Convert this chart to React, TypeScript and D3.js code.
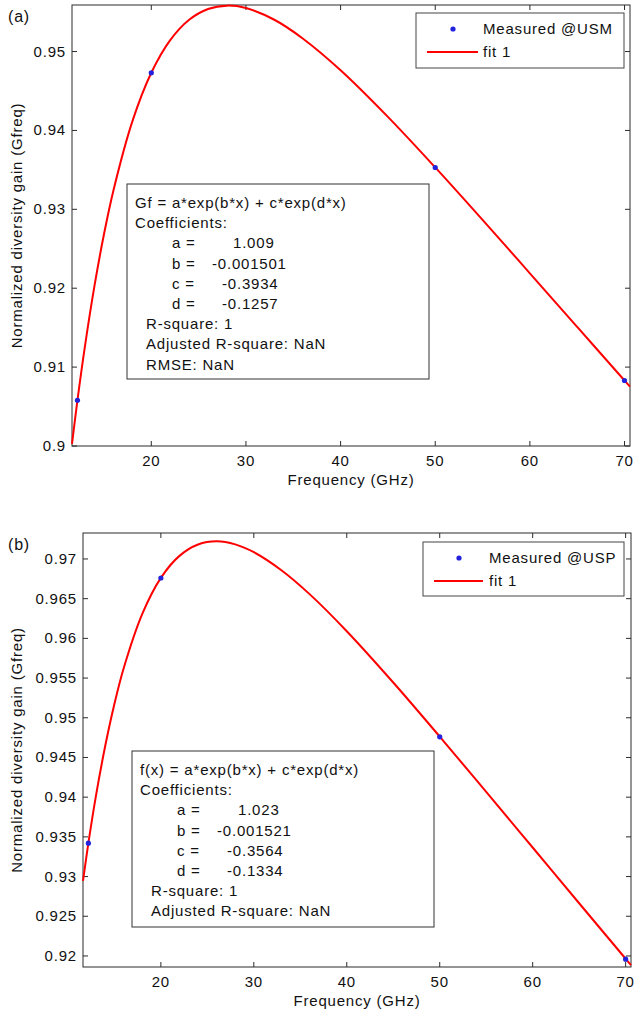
import React from "react";
import * as d3 from "d3";

// ---- data ----
const measuredFreq = [12.2, 20, 50, 70];
const measuredUSM = [0.9058, 0.9473, 0.9353, 0.9083];
const measuredUSP = [0.9342, 0.9676, 0.9476, 0.9196];

const fitFreq = [11.622, 12.2, 13, 14, 15, 16, 18, 20, 22, 24, 26, 28, 30, 33, 36, 40, 45, 50, 55, 60, 65, 70, 70.578];
const fitUSM = [0.90027, 0.90582, 0.91273, 0.92032, 0.92684, 0.9324, 0.94115, 0.94731, 0.95145, 0.95403, 0.9554, 0.95582, 0.95551, 0.95403, 0.95166, 0.94763, 0.94172, 0.93531, 0.92866, 0.92189, 0.9151, 0.9083, 0.90752];
const fitUSP = [0.92947, 0.9342, 0.94006, 0.94638, 0.95174, 0.95624, 0.96308, 0.96762, 0.97039, 0.97182, 0.97222, 0.97184, 0.97085, 0.96855, 0.96557, 0.9609, 0.95444, 0.94763, 0.94067, 0.93366, 0.92664, 0.91965, 0.91884];

const xTicks = [20, 30, 40, 50, 60, 70];
const yTicksA = [0.9, 0.91, 0.92, 0.93, 0.94, 0.95];
const yTickLabelsA = ["0.9", "0.91", "0.92", "0.93", "0.94", "0.95"];
const yTicksB = [0.92, 0.925, 0.93, 0.935, 0.94, 0.945, 0.95, 0.955, 0.96, 0.965, 0.97];
const yTickLabelsB = ["0.92", "0.925", "0.93", "0.935", "0.94", "0.945", "0.95", "0.955", "0.96", "0.965", "0.97"];

const coefNames = ["a", "b", "c", "d"];
const coefUSM = ["1.009", "-0.001501", "-0.3934", "-0.1257"];
const coefUSP = ["1.023", "-0.001521", "-0.3564", "-0.1334"];
const statsUSM = ["R-square: 1", "Adjusted R-square: NaN", "RMSE: NaN"];
const statsUSP = ["R-square: 1", "Adjusted R-square: NaN"];

const FONT = "'Liberation Sans', Arial, Helvetica, sans-serif";
const LS = 0.8;

type PanelProps = {
  label: string;
  box: { l: number; r: number; t: number; b: number };
  yDomain: [number, number];
  yTicks: number[];
  yTickLabels: string[];
  measured: number[];
  fit: number[];
  legendText: string;
  legendBox: { l: number; t: number; r: number; b: number; dotX: number; textX: number; lineX0: number; lineX1: number };
  annBox: { l: number; t: number; w: number; h: number };
  formula: string;
  coefs: string[];
  stats: string[];
};

function Panel(p: PanelProps) {
  const { box } = p;
  const x = d3.scaleLinear().domain([11.622, 70.578]).range([box.l, box.r]);
  const y = d3.scaleLinear().domain(p.yDomain).range([box.b, box.t]);
  const line = d3
    .line<number>()
    .x((_, i) => x(fitFreq[i]))
    .y((d) => y(d))
    .curve(d3.curveCatmullRom.alpha(0.5));
  const tl = 5;
  const axisColor = "#2b2b2b";
  const lg = p.legendBox;
  const a = p.annBox;
  const rowH = 20.2;
  const rowY = (i: number) => a.t + 19 + i * rowH + 5;
  const valIndent = (s: string) => (s.startsWith("-0.00") ? 85 : s.startsWith("-") ? 95 : 106);
  return (
    <g fontFamily={FONT} fontSize={15} letterSpacing={LS}>
      <text x={8} y={box.t + 17} fontSize={16} fill="#111">{p.label}</text>
      <rect x={box.l} y={box.t} width={box.r - box.l} height={box.b - box.t} fill="#fff" stroke={axisColor} strokeWidth={1} />
      {xTicks.map((t) => (
        <g key={"x" + t}>
          <line x1={x(t)} x2={x(t)} y1={box.b} y2={box.b - tl} stroke={axisColor} />
          <line x1={x(t)} x2={x(t)} y1={box.t} y2={box.t + tl} stroke={axisColor} />
          <text x={x(t)} y={box.b + 20} textAnchor="middle" fill="#111">{t}</text>
        </g>
      ))}
      {p.yTicks.map((t, i) => (
        <g key={"y" + t}>
          <line x1={box.l} x2={box.l + tl} y1={y(t)} y2={y(t)} stroke={axisColor} />
          <line x1={box.r} x2={box.r - tl} y1={y(t)} y2={y(t)} stroke={axisColor} />
          <text x={box.l - 6} y={y(t) + 5} textAnchor="end" fill="#111">{p.yTickLabels[i]}</text>
        </g>
      ))}
      <text x={(box.l + box.r) / 2} y={box.b + 39} textAnchor="middle" fill="#111">Frequency (GHz)</text>
      <text
        transform={`translate(22,${(box.t + box.b) / 2}) rotate(-90)`}
        textAnchor="middle"
        fill="#111"
      >
        Normalized diversity gain (Gfreq)
      </text>
      <path d={line(p.fit) || ""} fill="none" stroke="#ff0000" strokeWidth={2} />
      {p.measured.map((v, i) => (
        <circle key={"m" + i} cx={x(measuredFreq[i])} cy={y(v)} r={2.6} fill="#2222dd" />
      ))}
      {/* annotation box */}
      <rect x={a.l} y={a.t} width={a.w} height={a.h} fill="#fff" stroke="#333" strokeWidth={1} />
      <text x={a.l + 8} y={rowY(0)} fill="#111">{p.formula}</text>
      <text x={a.l + 8} y={rowY(1)} fill="#111">Coefficients:</text>
      {p.coefs.map((c, i) => (
        <g key={"c" + i}>
          <text x={a.l + 45} y={rowY(2 + i)} fill="#111">{coefNames[i] + " ="}</text>
          <text x={a.l + valIndent(c)} y={rowY(2 + i)} fill="#111">{c}</text>
        </g>
      ))}
      {p.stats.map((s, i) => (
        <text key={"s" + i} x={a.l + 19} y={rowY(6 + i)} fill="#111">{s}</text>
      ))}
      {/* legend */}
      <rect x={lg.l} y={lg.t} width={lg.r - lg.l} height={lg.b - lg.t} fill="#fff" stroke="#444" strokeWidth={1} />
      <circle cx={lg.dotX} cy={lg.t + 16} r={2.6} fill="#2222dd" />
      <text x={lg.textX} y={lg.t + 21} fill="#111">{p.legendText}</text>
      <line x1={lg.lineX0} x2={lg.lineX1} y1={lg.t + 39} y2={lg.t + 39} stroke="#ff0000" strokeWidth={2} />
      <text x={lg.textX} y={lg.t + 44} fill="#111">fit 1</text>
    </g>
  );
}

export default function App() {
  return (
    <svg
      width={634}
      height={1014}
      style={{ position: "absolute", left: 0, top: 0, display: "block", background: "#fff" }}
    >
      <rect width={634} height={1014} fill="#fff" />
      <Panel
        label="(a)"
        box={{ l: 72, r: 630, t: 5, b: 446 }}
        yDomain={[0.9, 0.9559]}
        yTicks={yTicksA}
        yTickLabels={yTickLabelsA}
        measured={measuredUSM}
        fit={fitUSM}
        legendText="Measured @USM"
        legendBox={{ l: 416, t: 13, r: 624, b: 68, dotX: 453, textX: 483, lineX0: 427, lineX1: 478 }}
        annBox={{ l: 127, t: 184, w: 302, h: 195 }}
        formula="Gf = a*exp(b*x) + c*exp(d*x)"
        coefs={coefUSM}
        stats={statsUSM}
      />
      <Panel
        label="(b)"
        box={{ l: 83, r: 631, t: 533, b: 967 }}
        yDomain={[0.91861, 0.97327]}
        yTicks={yTicksB}
        yTickLabels={yTickLabelsB}
        measured={measuredUSP}
        fit={fitUSP}
        legendText="Measured @USP"
        legendBox={{ l: 423, t: 542, r: 624, b: 596, dotX: 459, textX: 489, lineX0: 434, lineX1: 483 }}
        annBox={{ l: 132, t: 751, w: 302, h: 176 }}
        formula="f(x) = a*exp(b*x) + c*exp(d*x)"
        coefs={coefUSP}
        stats={statsUSP}
      />
    </svg>
  );
}
